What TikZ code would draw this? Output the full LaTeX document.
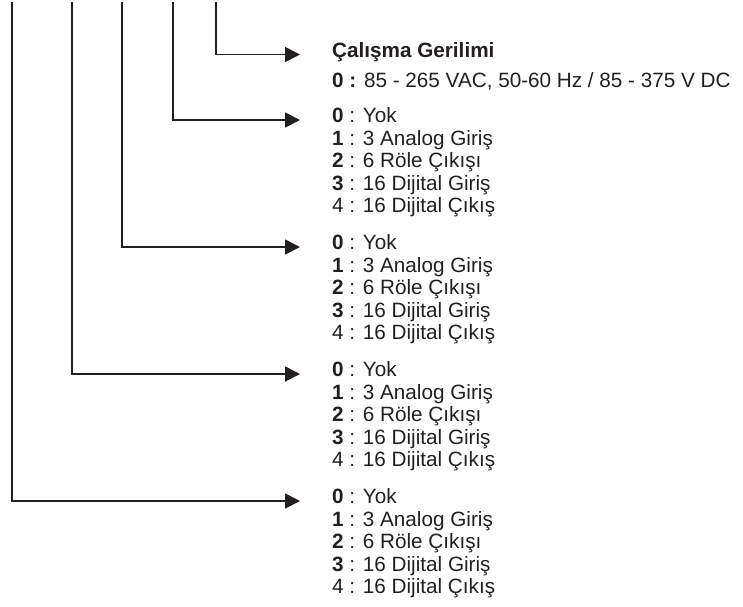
\documentclass[tikz,border=0pt]{standalone}
\usepackage{fontspec}
\setmainfont{Liberation Sans}
\usepackage{tikz}
\definecolor{darkink}{RGB}{35, 31, 32}
\usetikzlibrary{arrows.meta, positioning}
\newcommand{\secenekler}{\begin{tabular}[t]{@{}l@{}}\textbf{0} : Yok\\ \textbf{1} : 3 Analog Giriş\\ \textbf{2} : 6 Röle Çıkışı\\ \textbf{3} : 16 Dijital Giriş\\ 4 : 16 Dijital Çıkış\end{tabular}}

\begin{document}
\begin{tikzpicture}[
    x=1pt, y=-1pt,
    lead/.style={draw=darkink, line width=1.8pt, -{Triangle[length=15pt, width=15pt]}, shorten >=32pt},
    options/.style={anchor=mid west, inner sep=0pt, text=darkink, font=\fontsize{20.7}{22.5}\selectfont}
]
    \useasboundingbox (0,0) rectangle (743,606);

    % Supply voltage
    \node[options, font=\fontsize{20.7}{22.5}\selectfont\bfseries] (baslik) at (332,54.5) {Çalışma Gerilimi};
    \node[options] (gerilim) at (332,85) {\textbf{0 :} 85 - 265 VAC, 50-60 Hz / 85 - 375 V DC};

    % Slot options
    \node[options] (kart1) at (332,120) {\secenekler};
    \node[options] (kart2) at (332,247) {\secenekler};
    \node[options] (kart3) at (332,374) {\secenekler};
    \node[options] (kart4) at (332,501) {\secenekler};

    % Code digits
    \coordinate (ust1) at (216,2);
    \coordinate (ust2) at (173,2);
    \coordinate (ust3) at (122,2);
    \coordinate (ust4) at (72,2);
    \coordinate (ust5) at (12,2);

    \draw[lead] (ust1) |- (baslik.mid west);
    \draw[lead] (ust2) |- (kart1.mid west);
    \draw[lead] (ust3) |- (kart2.mid west);
    \draw[lead] (ust4) |- (kart3.mid west);
    \draw[lead] (ust5) |- (kart4.mid west);

\end{tikzpicture}
\end{document}
